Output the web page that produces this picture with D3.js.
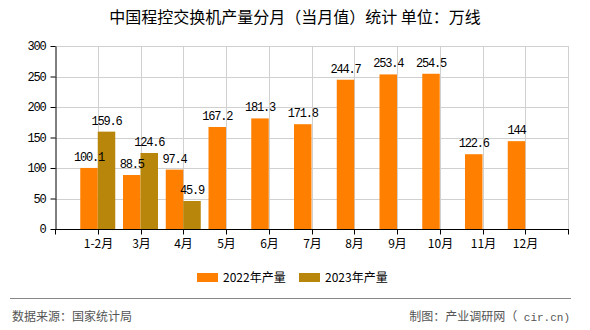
<!DOCTYPE html>
<html><head><meta charset="utf-8">
<script src="https://cdn.jsdelivr.net/npm/d3@7"></script>
<style>body{margin:0;background:#fff}svg{display:block}</style>
</head><body><svg id="c" width="590" height="330"></svg>
<script>
const categories = ["1-2月","3月","4月","5月","6月","7月","8月","9月","10月","11月","12月"];
const series2022 = [100.1,88.5,97.4,167.2,181.3,171.8,244.7,253.4,254.5,122.6,144];
const series2023 = [159.6,124.6,45.9,null,null,null,null,null,null,null,null];
const seriesNames = ["2022年产量","2023年产量"];
const yTicks = [0,50,100,150,200,250,300];
const colors = ["#FF8000","#B8860B"];

const svg = d3.select("#c");
const L=55, R=568, T=46, B=229;
const step=(R-L)/12;
const x = d3.scaleBand().domain(categories).range([L+step/2, R-step/2]).paddingInner(0).paddingOuter(0);
const cx = c => x(c)+x.bandwidth()/2;
const y = d3.scaleLinear().domain([0,300]).range([B,T]);
const bw = 17.5;
const mono = "'Liberation Mono','DejaVu Sans Mono',monospace";
const cjk = "'Noto Sans CJK SC','Noto Sans',sans-serif";

// title
svg.append("text").attr("x",295).attr("y",23).attr("text-anchor","middle")
  .style("font-family",cjk).style("font-size","16px").attr("fill","#000")
  .text("中国程控交换机产量分月（当月值）统计 单位：万线");

// grid
const g = svg.append("g");
g.selectAll(".hg").data(yTicks.slice(1)).join("line")
  .attr("x1",L).attr("x2",R).attr("y1",d=>Math.round(y(d))+0.5).attr("y2",d=>Math.round(y(d))+0.5)
  .attr("stroke","#d0d0d0");
g.selectAll(".vg").data(categories).join("line")
  .attr("x1",d=>Math.round(cx(d))+0.5).attr("x2",d=>Math.round(cx(d))+0.5).attr("y1",T).attr("y2",B)
  .attr("stroke","#d0d0d0");
g.append("line").attr("x1",R+0.5).attr("x2",R+0.5).attr("y1",T).attr("y2",B).attr("stroke","#d0d0d0");

// bars
const bars = svg.append("g");
bars.selectAll(".b22").data(categories).join("rect")
  .attr("x",d=>cx(d)-bw).attr("width",bw)
  .attr("y",(d,i)=>y(series2022[i])).attr("height",(d,i)=>B-y(series2022[i]))
  .attr("fill",colors[0]);
const c23 = categories.map((c,i)=>({c,v:series2023[i]})).filter(d=>d.v!=null);
bars.selectAll(".b23").data(c23).join("rect")
  .attr("x",d=>cx(d.c)).attr("width",bw)
  .attr("y",d=>y(d.v)).attr("height",d=>B-y(d.v))
  .attr("fill",colors[1]);

// labels
const lab = svg.append("g").style("font-family",mono).style("font-size","12px").style("letter-spacing","-1.2px").attr("text-anchor","middle");
lab.selectAll(".l22").data(categories).join("text")
  .attr("x",d=>cx(d)-bw/2).attr("y",(d,i)=>y(series2022[i])-7)
  .text((d,i)=>String(series2022[i]));
lab.selectAll(".l23").data(c23).join("text")
  .attr("x",d=>cx(d.c)+bw/2).attr("y",d=>y(d.v)-7)
  .text(d=>String(d.v));

// axes
const ya = svg.append("g").attr("transform",`translate(${L+0.5},0)`)
  .call(d3.axisLeft(y).tickValues(yTicks).tickSize(5).tickSizeOuter(0).tickFormat(d3.format("d")));
ya.select(".domain").attr("stroke","#000");
ya.selectAll("text").style("font-family",mono).style("font-size","12px").style("letter-spacing","-1.2px").attr("fill","#000").attr("dx","-2");
const xa = svg.append("g").attr("transform",`translate(0,${B+0.5})`)
  .call(d3.axisBottom(x).tickSize(5).tickSizeOuter(0));
xa.selectAll(".tick").attr("transform",d=>`translate(${Math.round(cx(d))+0.5},0)`);
xa.select(".domain").attr("d",`M${L},0H${R+1}`).attr("stroke","#000");
xa.selectAll("text").style("font-family",cjk).style("font-size","12px").attr("fill","#000").attr("dy","0.9em");
xa.append("line").attr("x1",L+0.5).attr("x2",L+0.5).attr("y1",0).attr("y2",5).attr("stroke","#000");
xa.append("line").attr("x1",R+0.5).attr("x2",R+0.5).attr("y1",0).attr("y2",5).attr("stroke","#000");

// legend
const lg = svg.append("g");
const lx=[197,299];
seriesNames.forEach((n,i)=>{
  lg.append("rect").attr("x",lx[i]).attr("y",273).attr("width",21).attr("height",9).attr("fill",colors[i]);
  lg.append("text").attr("x",lx[i]+26).attr("y",282).style("font-family",cjk).style("font-size","12px").attr("fill","#000").text(n);
});

// footer
svg.append("line").attr("x1",10).attr("x2",571).attr("y1",298.5).attr("y2",298.5).attr("stroke","#888");
svg.append("text").attr("x",12).attr("y",321).style("font-family",cjk).style("font-size","12px").attr("fill","#555").text("数据来源：国家统计局");
const ft = svg.append("text").attr("x",570).attr("y",321).attr("text-anchor","end").style("font-family",cjk).style("font-size","12px").attr("fill","#555");
ft.append("tspan").text("制图：产业调研网（");
ft.append("tspan").style("font-family",mono).style("font-size","11px").text(" cir.cn)");
</script></body></html>
